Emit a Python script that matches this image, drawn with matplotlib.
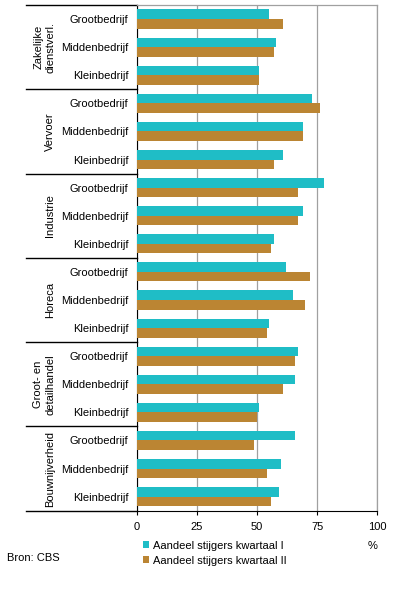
import numpy as np
import matplotlib
matplotlib.use("Agg")
import matplotlib.pyplot as plt
from matplotlib.transforms import blended_transform_factory

# =========================
# DATA
# =========================

groups = [
    "Zakelijke\ndienstverl.",
    "Vervoer",
    "Industrie",
    "Horeca",
    "Groot- en\ndetailhandel",
    "Bouwnijverheid",
]

sizes = ["Grootbedrijf", "Middenbedrijf", "Kleinbedrijf"]

kwartaal_1 = [
    55, 58, 51,
    73, 69, 61,
    78, 69, 57,
    62, 65, 55,
    67, 66, 51,
    66, 60, 59,
]

kwartaal_2 = [
    61, 57, 51,
    76, 69, 57,
    67, 67, 56,
    72, 70, 54,
    66, 61, 50,
    49, 54, 56,
]

label_1 = "Aandeel stijgers kwartaal I"
label_2 = "Aandeel stijgers kwartaal II"

TEAL = "#1FBDC6"
BROWN = "#BB8533"
GRID = "#A0A0A0"

plt.rcParams["font.family"] = ["Liberation Sans", "DejaVu Sans"]
plt.rcParams["font.size"] = 8

# =========================
# FIGURE
# =========================

W, H = 396, 590
fig = plt.figure(figsize=(W / 100, H / 100), dpi=100)

left, right, top, bottom = 136.5, 377.3, 5, 510.7
ax = fig.add_axes([
    left / W,
    1 - bottom / H,
    (right - left) / W,
    (bottom - top) / H,
])

n = len(kwartaal_1)
y = np.arange(n)
h = 0.34

ax.barh(y - h / 2, kwartaal_1, height=h, color=TEAL, label=label_1, zorder=3)
ax.barh(y + h / 2, kwartaal_2, height=h, color=BROWN, label=label_2, zorder=3)

ax.set_xlim(0, 100)
ax.set_ylim(n - 0.5, -0.5)

ax.set_xticks([0, 25, 50, 75, 100])
ax.set_xticklabels(["0", "25", "50", "75", "100"])
ax.tick_params(axis="x", length=3, width=0.8, pad=5, color="black")

ax.set_yticks(y)
ax.set_yticklabels(sizes * len(groups))
ax.tick_params(axis="y", length=0, pad=6)

ax.grid(axis="x", color=GRID, linewidth=0.9, zorder=0)

ax.spines["top"].set_color(GRID)
ax.spines["right"].set_color(GRID)
ax.spines["top"].set_linewidth(0.9)
ax.spines["right"].set_linewidth(0.9)
ax.spines["left"].set_color("black")
ax.spines["bottom"].set_color("black")

# group separators extending left of the axis
x_ext = -(left - 26) / (right - left)
trans = blended_transform_factory(ax.transAxes, ax.transData)
for b in np.arange(-0.5, n + 0.5, 3):
    ax.plot([x_ext, 0], [b, b], color="black", linewidth=1.0,
            transform=trans, clip_on=False)

# group labels
trans_lab = blended_transform_factory(fig.transFigure, ax.transData)
for i, g in enumerate(groups):
    ax.text(55 / W, i * 3 + 1, g, rotation=90, ha="right", va="center",
            multialignment="center", transform=trans_lab, fontsize=8)

# legend
fig.legend(
    loc="upper left",
    bbox_to_anchor=(137 / W, 1 - 535 / H),
    frameon=False,
    handlelength=0.6,
    handleheight=0.6,
    handletextpad=0.35,
    labelspacing=0.45,
    borderpad=0,
    fontsize=8,
)

fig.text(373 / W, 1 - 546 / H, "%", ha="center", va="center", fontsize=8)
fig.text(7 / W, 1 - 558 / H, "Bron: CBS", ha="left", va="center", fontsize=8)

fig.savefig("out.png", dpi=100)
plt.close()
